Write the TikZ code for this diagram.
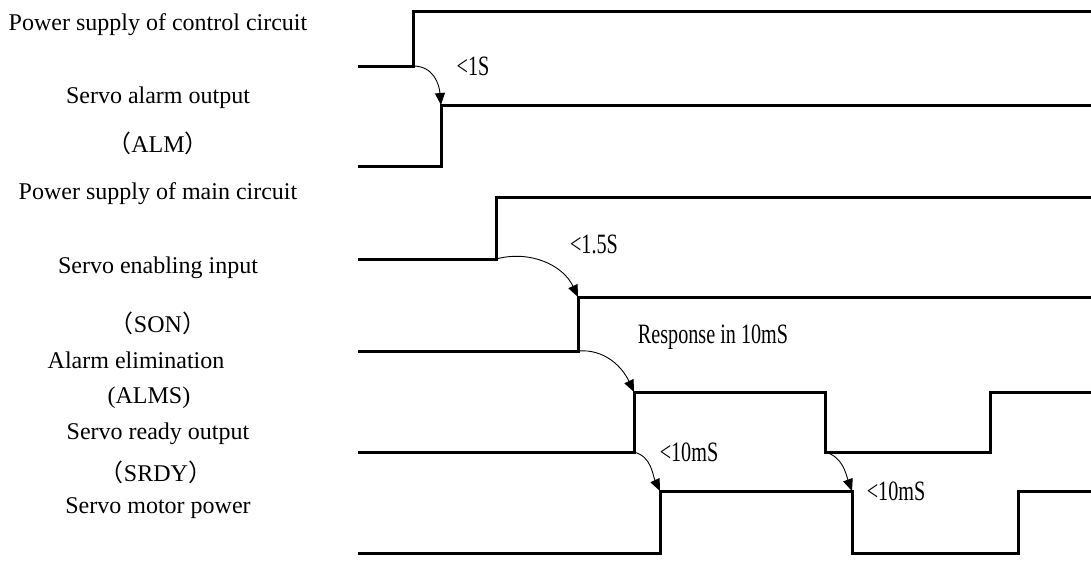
\documentclass[tikz,border=0pt]{standalone}
\usepackage{fontspec}
\setmainfont{Liberation Serif}
\newfontfamily\cjk{Noto Sans CJK SC}
\usetikzlibrary{arrows.meta}
\tikzset{
  wave/.style={line width=3pt, line join=miter, line cap=butt},
  delay/.style={-{Triangle[length=12pt,width=10pt]}, line width=0.9pt},
  lab/.style={font=\fontsize{24}{26}\selectfont, inner sep=0pt},
  dlab/.style={font=\fontsize{28}{30}\selectfont, inner sep=0pt},
}
\newcommand{\dl}[1]{\scalebox{0.72}[1]{#1}}
\begin{document}
\begin{tikzpicture}[x=1pt,y=-1pt]
\useasboundingbox (0,0) rectangle (1091,586);
% signal names
\node[lab] (n1) at (158,25) {Power supply of control circuit};
\node[lab] (n2) at (158,98) {Servo alarm output};
\node[lab] (n3) at (158,143) {{\cjk （}ALM{\cjk ）}};
\node[lab] (n4) at (158,194) {Power supply of main circuit};
\node[lab] (n5) at (158,268) {Servo enabling input};
\node[lab] (n6) at (158,323) {{\cjk （}SON{\cjk ）}};
\node[lab] (n7) at (136,360) {Alarm elimination};
\node[lab] (n8) at (149,398) {(ALMS)};
\node[lab] (n9) at (158,434) {Servo ready output};
\node[lab] (n10) at (156,472) {{\cjk （}SRDY{\cjk ）}};
\node[lab] (n11) at (158,508) {Servo motor power};
% key points
\coordinate (a1) at (413,66);
\coordinate (b1) at (441,105);
\coordinate (a2) at (496,259);
\coordinate (b2) at (578,297);
\coordinate (a3) at (578,351);
\coordinate (b3) at (634,392);
\coordinate (a4) at (634,452);
\coordinate (b4) at (660,491);
\coordinate (a5) at (825,452);
\coordinate (b5) at (852,491);
% waveforms
\draw[wave] (358,66) -- (a1) -- (413,12) -- (1091,12);
\draw[wave] (358,166) -- (441,166) -- (b1) -- (1091,105);
\draw[wave] (358,259) -- (a2) -- (496,197) -- (1091,197);
\draw[wave] (358,351) -- (a3) -- (b2) -- (1091,297);
\draw[wave] (358,452) -- (a4) -- (b3) -- (825,392) -- (a5) -- (990,452) -- (990,392) -- (1091,392);
\draw[wave] (358,553) -- (660,553) -- (b4) -- (852,491) -- (852,553) -- (1018,553) -- (1018,491) -- (1091,491);
% delay arrows
\draw[delay] (a1) to[out=0,in=95,looseness=1.1] (b1);
\draw[delay] (a2) to[out=15,in=115,looseness=1.0] (b2);
\draw[delay] (a3) to[out=5,in=115,looseness=1.0] (b3);
\draw[delay] (a4) to[out=-15,in=115,looseness=1.0] (b4);
\draw[delay] (a5) to[out=-15,in=110,looseness=1.0] (b5);
% delay labels
\node[dlab] (d1) at (473,66) {\dl{<1S}};
\node[dlab] (d2) at (594,244) {\dl{<1.5S}};
\node[dlab] (d3) at (713,337) {\dl{Response in 10mS}};
\node[dlab] (d4) at (689,452) {\dl{<10mS}};
\node[dlab] (d5) at (896,491) {\dl{<10mS}};
\end{tikzpicture}
\end{document}
